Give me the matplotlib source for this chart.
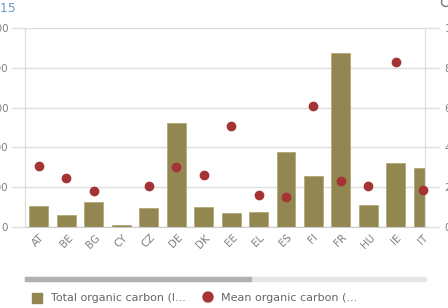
import matplotlib
matplotlib.use('Agg')
import matplotlib.pyplot as plt
import numpy as np

# values (left axis: total, right axis: mean)
countries = ['AT', 'BE', 'BG', 'CY', 'CZ', 'DE', 'DK', 'EE', 'EL', 'ES',
             'FI', 'FR', 'HU', 'IE', 'IT']
total_oc = [53, 29, 63, 4, 47, 261, 51, 34, 37, 188, 127, 436, 55, 162, 148]
mean_oc = [30.7, 24.8, 18.2, np.nan, 20.6, 30.2, 26.0, 50.8, 15.9, 14.9,
           60.7, 23.3, 20.6, 82.8, 18.8]
left_ticks = [0, 100, 200, 300, 400, 500]
right_ticks = [0, 20, 40, 60, 80, 100]

BAR = '#928651'
DOT = '#a53333'
GRID = '#dedede'
TXT = '#808080'

W, H = 448, 308
fig = plt.figure(figsize=(W / 100, H / 100), dpi=100)
ax = fig.add_axes([25 / W, 81 / H, 400 / W, 199 / H])
ax2 = ax.twinx()

x = np.arange(len(countries))
ax.bar(x, total_oc, width=0.69, color=BAR, edgecolor='#b3a878', linewidth=0.6, zorder=2)
ax.set_ylim(0, 500)
ax.set_xlim(-0.5, 14.06)
ax.set_yticks(left_ticks)
ax.set_yticklabels([str(v) for v in left_ticks])
ax.grid(axis='y', color=GRID, linewidth=1)
ax.set_axisbelow(True)

ax2.scatter(x, mean_oc, s=36, color=DOT, zorder=3, clip_on=False)
ax2.set_ylim(0, 100)
ax2.set_yticks(right_ticks)

ax.set_xticks(x)
ax.set_xticklabels(countries, rotation=45, ha='center', va='top')

for a in (ax, ax2):
    for s in ('top', 'bottom'):
        a.spines[s].set_visible(False)
    a.spines['left'].set_color(GRID)
    a.spines['right'].set_color(GRID)
ax.spines['bottom'].set_visible(True)
ax.spines['bottom'].set_color('#cccccc')

ax.tick_params(axis='y', length=10, width=1, color=GRID, labelsize=7.5,
               labelcolor=TXT, pad=2)
ax2.tick_params(axis='y', length=10, width=1, color=GRID, labelsize=7.5,
                labelcolor=TXT, pad=4)
ax.tick_params(axis='x', length=0, labelsize=7.5, labelcolor=TXT, pad=4)

# title, mostly cut off at the left edge
fig.text(16 / W, 1 - 8 / H, '2015', ha='right', va='center', fontsize=9,
         color='#6b9bd1')

# scrollbar
fig.patches.append(plt.Rectangle((25 / W, 1 - 281 / H), 401 / W, 4 / H,
                                 transform=fig.transFigure, color='#e6e6e6'))
fig.patches.append(plt.Rectangle((25 / W, 1 - 281 / H), 226 / W, 4 / H,
                                 transform=fig.transFigure, color='#b0b0b0'))

# legend
fig.patches.append(plt.Rectangle((32 / W, 1 - 303 / H), 10 / W, 10 / H,
                                 transform=fig.transFigure, color=BAR))
fig.text(51 / W, 1 - 298 / H, 'Total organic carbon (l...', va='center',
         fontsize=8, color='#666666')
fig.add_artist(matplotlib.patches.Ellipse((208 / W, 1 - 297 / H), 10 / W, 10 / H,
                                          transform=fig.transFigure, color=DOT))
fig.text(221 / W, 1 - 298 / H, 'Mean organic carbon (...', va='center',
         fontsize=8, color='#666666')

# menu icon cut at top right
fig.add_artist(matplotlib.patches.Ellipse((446 / W, 1 - 2 / H), 9 / W, 9 / H,
                                          transform=fig.transFigure,
                                          facecolor='none', edgecolor='#777777'))

plt.savefig('out.png', dpi=100)
